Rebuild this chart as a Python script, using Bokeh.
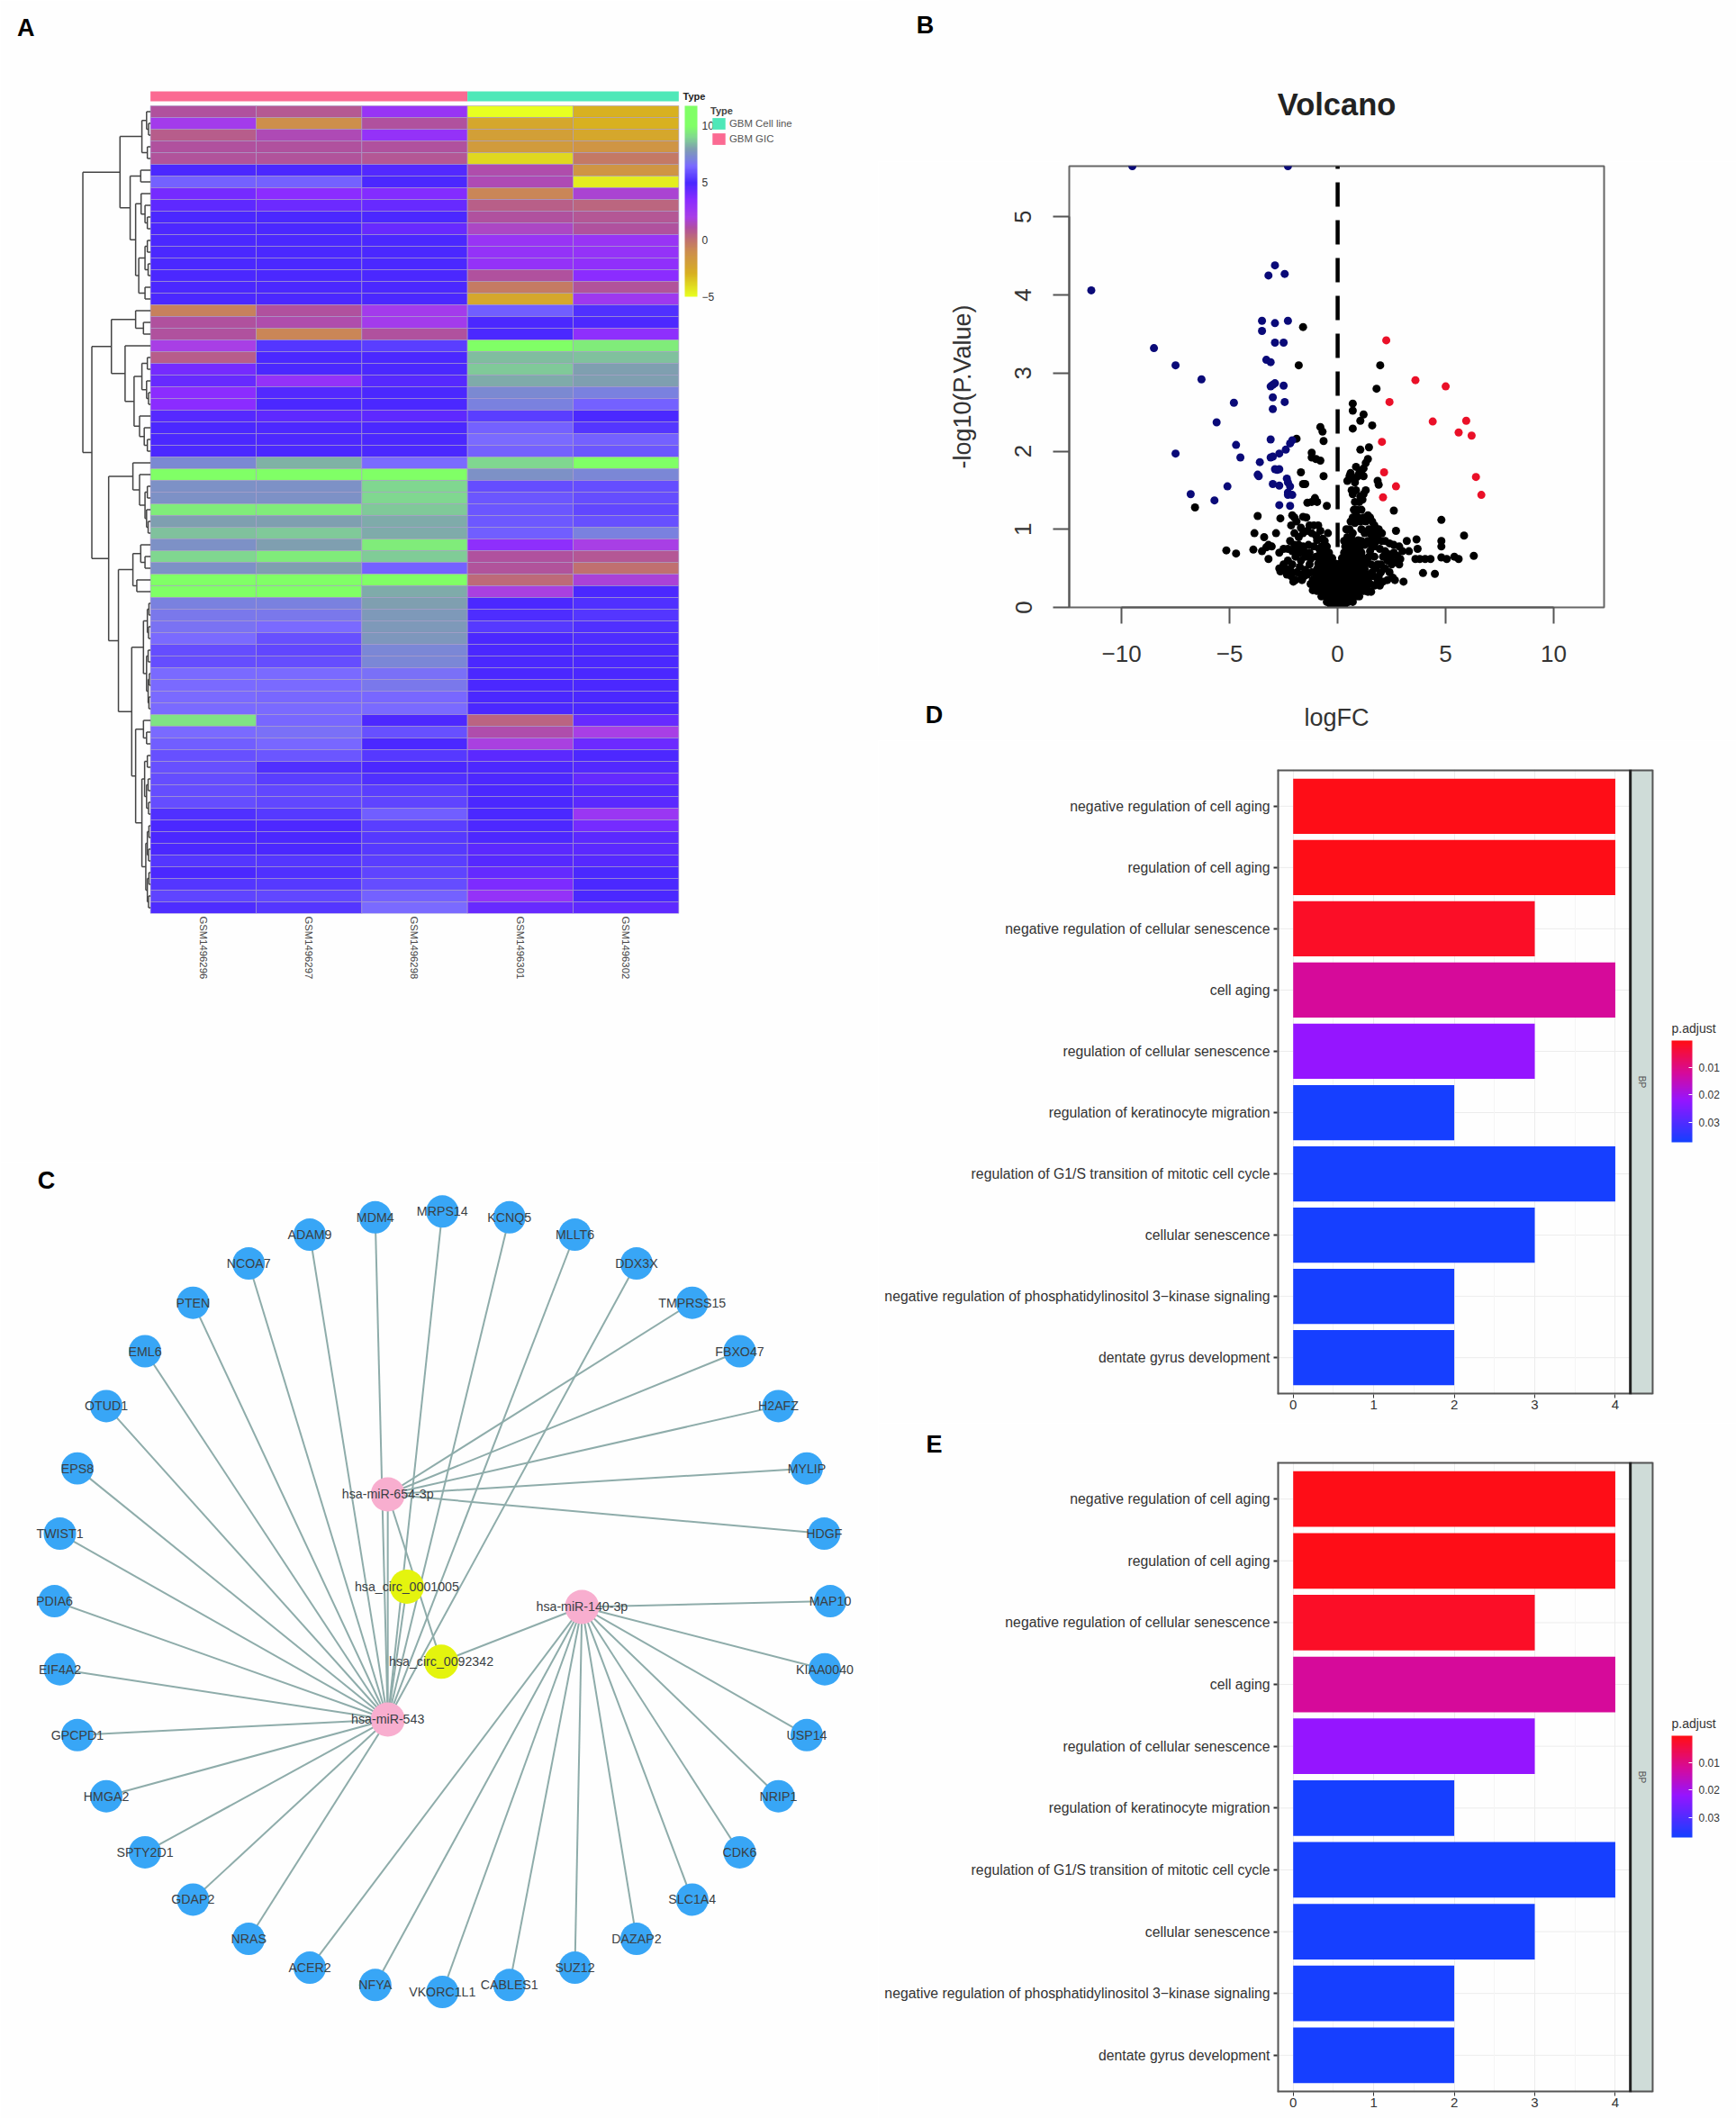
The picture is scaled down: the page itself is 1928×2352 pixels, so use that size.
import math
from bokeh.plotting import figure
from bokeh.layouts import row, column
from bokeh.models import (Range1d, FactorRange, FixedTicker, LinearColorMapper, ColorBar, AllLabels,
                          Legend, LegendItem, Label, ColumnDataSource, Title)
from bokeh.transform import transform
from bokeh.core.properties import value
from bokeh.embed import file_html
from bokeh.resources import INLINE

FONT = "Liberation Sans"
BG = "#fefefe"

# ---------- Panel A: heatmap ----------
samples = ["GSM1496296", "GSM1496297", "GSM1496298", "GSM1496301", "GSM1496302"]
sample_type = ["GBM GIC", "GBM GIC", "GBM GIC", "GBM Cell line", "GBM Cell line"]
heat_rows = [
    [1, .7, 2.8, -5, -3], [2.2, -1.2, 1, -2.5, -3], [.6, 1.3, 3, -2, -2.5], [1, 1, 1, -1.8, -1.5],
    [.9, .9, .8, -4, -.3], [5, 5, 4.8, 1.2, -1.5], [6.3, 6.3, 5, 1.3, -4.5], [4, 3.5, 3.7, -.8, 1.7],
    [4.5, 4.2, 4.3, .5, .3], [5, 5, 5, 1, .8], [4.9, 5, 4.3, 1.5, 1], [5, 5, 5, 2.8, 2.8],
    [5, 5, 5, 3, 3], [5, 5, 5, 3, 3.2], [5, 5, 5, 1, 3.5], [5, 5, 5, -.4, .9],
    [5, 5, 5, -2.5, 2.5], [-.6, 1, 2.2, 6.2, 5.2], [1, 1.2, 2.2, 5, 4.9], [1, -.8, 1, 5, 3.3],
    [2, 5.3, 5.5, 10, 9.5], [.6, 5, 5, 8.5, 8.6], [4, 5, 5, 8.7, 8], [4.3, 3, 4.7, 8.2, 8],
    [3.5, 4.8, 5, 7.3, 7], [3.5, 5, 5, 7, 6.3], [4.7, 4.5, 4.5, 5.5, 5], [5, 4.9, 5, 6.3, 5.3],
    [5, 4.9, 5, 6.5, 6.3], [5, 5, 5, 6.3, 6], [7.3, 8.3, 6.5, 9, 10], [10, 10, 10, 7.5, 7.2],
    [7.5, 7.5, 9, 5.8, 5.8], [7.5, 7.5, 9, 6, 5.8], [9.5, 9.5, 8.7, 6, 5.7], [8, 8, 8.2, 6.1, 5.9],
    [8.6, 8.7, 8.2, 6.2, 7], [7.5, 8, 9.5, 3.3, 2], [9, 9.5, 8.8, 1, .8], [7.5, 8, 6.3, .9, 0],
    [11, 11, 11, .2, 1.8], [11, 11, 8.2, 1.9, 5], [7, 7, 8, 5, 5.2], [6.8, 6.8, 7.8, 5.1, 5.3],
    [6.7, 6.5, 7.8, 5.4, 5.2], [6.5, 5.9, 7.7, 5, 5.1], [5.8, 5.7, 7.2, 5, 5], [5.8, 5.8, 7.2, 5, 5],
    [6.5, 6.5, 6.6, 5, 5], [6.5, 6.5, 6.8, 5, 5], [6.5, 6.4, 6.4, 5, 5], [6.5, 6.5, 6.5, 5, 5],
    [9.2, 6.4, 4.9, .4, 4.3], [6.5, 6.6, 5.9, 1.2, 2], [6.2, 6.4, 5, 1.9, 4.2], [5.9, 6, 5.4, 4.6, 4.9],
    [5.9, 5.2, 5, 4.9, 4.8], [5.8, 5.5, 5.2, 4.9, 4.4], [5.8, 5.7, 5.5, 5, 4.8], [5.8, 5.7, 5.6, 5, 4.6],
    [5.2, 5.4, 6.2, 5, 2.7], [5, 4.9, 5.5, 4.9, 4], [5, 5, 5.4, 4.9, 4.6], [5, 5, 5.4, 4.6, 4.6],
    [5.3, 5.3, 5.5, 4.7, 4.7], [5, 5.2, 5.6, 4.4, 5], [5.3, 5.4, 5.8, 3.8, 5], [5.6, 5.7, 6.3, 3, 5],
    [5.1, 5.3, 6.5, 4.3, 4.5],
]
# dendrogram: (height, left, right), leaves are row numbers from the top
t1_5 = (22, (10, 1, (5, 2, 3)), (8, 4, 5))
t6_17 = (52, (25, 6, 7), (38, (24, 8, (14, 9, (8, 10, 11))), (30, (14, (8, 12, 13), (6, 14, 15)), (14, 16, 17))))
t18_20 = (38, 18, (18, 19, 20))
t22_26 = (22, (8, 22, 23), (10, 24, (5, 25, 26)))
t27_30 = (28, 27, (16, 28, (8, 29, 30)))
t21_30 = (65, 21, (42, t22_26, t27_30))
t31_37 = (45, 31, (28, 32, (14, (8, 33, 34), (10, 35, (6, 36, 37)))))
t38_42 = (45, (25, 38, (14, 39, 40)), (35, 41, 42))
t43_52 = (18, (8, (4, 43, 44), (5, 45, 46)), (10, (6, 47, 48), (6, (3, 49, 50), (4, 51, 52))))
t53_55 = (18, 53, (10, 54, 55))
t56_69 = (22, (15, (8, 56, 57), (10, (6, 58, 59), (5, 60, 61))), (12, (8, (4, 62, 63), (5, 64, 65)), (8, (4, 66, 67), (5, 68, 69))))
dendro = (173, (78, t1_5, t6_17),
          (150, (100, t18_20, t21_30),
           (107, t31_37, (82, t38_42, (48, t43_52, (38, t53_55, t56_69))))))
heat_stops = [(-5, "#e8ff20"), (-3, "#d8b020"), (-1, "#cc8c50"), (0, "#c07070"), (1, "#b0509f"), (2, "#a83ee8"),
              (3.5, "#8a2cff"), (5, "#4a28ff"), (6.5, "#7a6aff"), (7, "#7a80e0"), (8, "#7f9fb0"),
              (9, "#80d890"), (10, "#80ff66"), (11.75, "#80ff66")]
heat_ticks = [-5, 0, 5, 10]

# ---------- Panel B: volcano ----------
blue_pts = [(-9.5, 5.65), (-2.3, 5.65), (-11.4, 4.06), (-2.9, 4.38), (-3.2, 4.25), (-2.45, 4.27), (-3.5, 3.67), (-2.9, 3.64),
            (-2.3, 3.67), (-3.5, 3.54), (-2.9, 3.39), (-2.5, 3.39), (-8.5, 3.32), (-7.5, 3.10), (-3.3, 3.17), (-3.1, 3.14),
            (-6.3, 2.92), (-3.1, 2.83), (-3.0, 2.85), (-2.9, 2.87), (-2.5, 2.84), (-3.0, 2.69), (-2.45, 2.63), (-4.8, 2.62),
            (-3.0, 2.54), (-5.6, 2.37), (-3.1, 2.15), (-2.1, 2.14), (-2.2, 2.1), (-4.7, 2.08), (-2.4, 2.02), (-2.7, 1.97),
            (-7.5, 1.97), (-4.5, 1.92), (-3.1, 1.92), (-3.0, 1.93), (-3.6, 1.86), (-2.9, 1.77), (-2.7, 1.77), (-2.8, 1.76),
            (-3.7, 1.70), (-3.65, 1.68), (-2.35, 1.65), (-3.0, 1.58), (-2.7, 1.56), (-2.3, 1.6), (-2.2, 1.55), (-5.1, 1.55),
            (-2.3, 1.47), (-2.3, 1.44), (-2.1, 1.44), (-6.8, 1.45), (-5.7, 1.37), (-2.7, 1.31), (-2.2, 1.30)]
red_pts = [(2.25, 3.42), (3.6, 2.91), (5.0, 2.83), (2.4, 2.63), (5.95, 2.39), (4.4, 2.38), (5.6, 2.24), (6.2, 2.2),
           (2.05, 2.12), (2.15, 1.73), (6.4, 1.67), (2.7, 1.55), (2.1, 1.41), (6.65, 1.44)]
black_sparse = [(-1.6, 3.59), (-1.8, 3.10), (1.97, 3.10), (1.8, 2.8), (.7, 2.61), (.7, 2.52), (1.2, 2.47), (1.05, 2.39), (.7, 2.29),
                (1.6, 2.33), (-.8, 2.31), (-.7, 2.25), (-.65, 2.13), (-1.9, 2.16), (1.05, 2.02), (1.45, 2.05), (-1.2, 1.98),
                (-1.2, 1.92), (-1.0, 1.9), (-.8, 1.88), (1.4, 1.9), (.85, 1.8), (1.3, 1.85), (1.2, 1.78),
                (-1.7, 1.73), (-1.6, 1.58), (-1.5, 1.58), (-.65, 1.68), (.45, 1.62), (.55, 1.68), (.6, 1.72), (.7, 1.65), (.8, 1.6),
                (.9, 1.67), (1.0, 1.72), (1.1, 1.75), (1.2, 1.68), (1.85, 1.62), (1.9, 1.57), (.65, 1.5), (.7, 1.45), (.85, 1.5),
                (1.05, 1.42), (1.2, 1.45), (1.3, 1.5), (.8, 1.35), (1.0, 1.35), (1.15, 1.38), (.75, 1.25), (.85, 1.22), (-1.4, 1.34),
                (-1.2, 1.35), (-1.05, 1.4), (-.95, 1.35), (-.5, 1.3), (2.6, 1.24), (-6.6, 1.28), (4.8, 1.12), (-3.7, 1.17), (-2.65, 1.14),
                (-2.1, 1.18), (-2.0, 1.15), (-1.6, 1.16), (-1.45, 1.15), (-2.15, 1.05), (-1.9, 1.1)]
black_mid = [(1.4, 1.18), (1.5, 1.15), (1.6, 1.1), (1.3, 1.1), (1.7, 1.05), (1.45, 1.0), (1.75, .95), (1.9, 1.0), (2.7, .98), (.7, 1.15),
             (.8, 1.08), (.55, 1.0), (.7, .95), (.45, .9), (1.1, 1.0), (1.25, .95), (-3.85, .95), (-3.4, .9), (-2.85, .95), (5.85, .92),
             (4.8, .85), (4.8, .78), (3.2, .85), (3.65, .87), (3.7, .75), (3.3, .72),
             (-5.15, .73), (-4.7, .69), (-3.9, .74), (-3.5, .72), (-3.3, .77), (-3.2, .8), (-3.05, .78), (-2.7, .7), (-3.2, .62), (-2.5, .75),
             (-2.7, .5), (-2.65, .46), (-2.5, .55), (-2.3, .6), (-2.2, .48), (-2.05, .33), (-1.65, .35), (-2.1, .55), (-1.95, .65), (-2.2, .85),
             (-2.0, .8), (-1.8, .9), (-1.6, .78), (-1.4, .98), (-1.2, .95), (-1.0, .92), (-.8, .98), (-1.7, .6), (-1.5, .65), (-1.3, .7),
             (-1.1, .78), (-1.9, .45), (-1.7, .42), (-1.5, .48), (-1.3, .55), (-1.0, .65), (-.85, .75), (-.6, .85), (-.45, .95),
             (2.2, .85), (2.4, .82), (2.6, .8), (2.85, .78), (3.0, .72), (2.6, .7), (2.75, .66), (2.9, .62), (2.7, .58), (2.5, .55), (2.85, .55),
             (2.3, .6), (2.1, .65), (2.2, .5), (2.4, .45), (2.55, .38), (2.1, .33), (2.65, .35), (3.05, .33), (2.0, .45), (1.85, .55), (1.7, .65),
             (1.5, .72), (1.95, .75), (1.8, .85), (1.6, .88), (1.4, .85), (1.25, .8), (1.1, .85), (1.55, .55), (1.65, .4), (1.4, .35), (1.85, .33),
             (3.6, .62), (3.8, .62), (4.05, .62), (4.3, .62), (4.8, .64), (5.05, .62), (5.4, .65), (5.6, .62), (6.3, .66), (3.95, .44), (4.5, .43)]
black_flanks = [(-2.3, .75), (-2.1, .72), (-1.9, .75), (-1.75, .7), (-1.55, .72), (-1.35, .8), (-1.25, .62), (-2.4, .5), (-2.35, .42), (-2.15, .4),
                (-1.95, .35), (-1.75, .52), (-1.55, .4), (-1.4, .42), (-1.2, .45), (-1.15, .35), (-1.8, .8), (-1.6, .95), (-2.0, .95), (-1.3, 1.05),
                (-1.1, 1.05), (-.9, 1.05), (-1.7, 1.02), (-.7, .88), (-1.25, .3), (-1.15, .22),
                (1.45, .65), (1.6, .45), (1.75, .5), (1.9, .4), (1.55, .8), (1.7, .78), (2.05, .85), (2.2, .72), (2.35, .68), (2.45, .62), (2.0, .55),
                (1.5, .3), (1.7, .28), (1.95, .28), (2.3, .35), (1.4, .2), (1.55, .2), (1.35, .6), (1.5, .95), (1.65, 1.0), (1.2, 1.15), (1.05, 1.1),
                (.95, 1.15), (1.85, .92), (2.05, .95), (.6, 1.1), (.4, 1.0), (.3, .85), (.9, 1.25), (1.1, 1.25)]
black_dense = [
    (.02, [-.3, -.1, .1, .3]),
    (.07, [-.5, -.3, -.1, .1, .3, .5, .7]),
    (.14, [-.75, -.55, -.35, -.15, .05, .25, .45, .65, .85, 1.0]),
    (.21, [-.95, -.75, -.55, -.35, -.15, .05, .25, .45, .65, .85, 1.05, 1.2]),
    (.28, [-1.0, -.8, -.6, -.4, -.2, 0, .2, .4, .6, .8, 1.0, 1.2, 1.35]),
    (.35, [-1.05, -.85, -.65, -.45, -.25, -.05, .15, .35, .55, .75, .95, 1.15, 1.35]),
    (.42, [-1.0, -.8, -.6, -.4, -.2, 0, .2, .4, .6, .8, 1.0, 1.2, 1.4]),
    (.49, [-.95, -.75, -.55, -.35, -.15, .05, .25, .45, .65, .85, 1.05, 1.25]),
    (.56, [-.9, -.7, -.5, -.3, -.1, .1, .3, .5, .7, .9, 1.1, 1.3]),
    (.63, [-.85, -.65, -.45, -.25, .2, .4, .6, .8, 1.0, 1.2]),
    (.70, [-.8, -.6, -.4, .3, .5, .7, .9, 1.1]),
    (.78, [-.75, -.5, .35, .6, .85, 1.05]),
    (.86, [-.95, .45, .7, .95]),
]

# ---------- Panel C: network (layout coordinates) ----------
hub_543, hub_654, hub_140 = "hsa-miR-543", "hsa-miR-654-3p", "hsa-miR-140-3p"
circ_a, circ_b = "hsa_circ_0001005", "hsa_circ_0092342"
hubs = {hub_654: (677, 560), hub_543: (677, 950), hub_140: (1033, 755)}
circs = {circ_a: (712, 720), circ_b: (775, 850)}
genes = [("MDM4", 654, 80, hub_543), ("MRPS14", 777, 70, hub_543), ("KCNQ5", 900, 80, hub_543), ("MLLT6", 1020, 110, hub_543),
         ("DDX3X", 1133, 160, hub_543), ("TMPRSS15", 1235, 228, hub_654), ("FBXO47", 1322, 312, hub_654), ("H2AFZ", 1393, 407, hub_654),
         ("MYLIP", 1445, 515, hub_654), ("HDGF", 1477, 628, hub_654), ("MAP10", 1488, 745, hub_140), ("KIAA0040", 1478, 863, hub_140),
         ("USP14", 1445, 977, hub_140), ("NRIP1", 1393, 1083, hub_140), ("CDK6", 1322, 1180, hub_140), ("SLC1A4", 1235, 1262, hub_140),
         ("DAZAP2", 1133, 1330, hub_140), ("SUZ12", 1020, 1380, hub_140), ("CABLES1", 900, 1410, hub_140), ("VKORC1L1", 777, 1422, hub_140),
         ("NFYA", 654, 1410, hub_140), ("ACER2", 534, 1380, hub_140), ("NRAS", 422, 1330, hub_543), ("GDAP2", 320, 1262, hub_543),
         ("SPTY2D1", 232, 1180, hub_543), ("HMGA2", 161, 1083, hub_543), ("GPCPD1", 108, 977, hub_543), ("EIF4A2", 76, 863, hub_543),
         ("PDIA6", 66, 745, hub_543), ("TWIST1", 76, 628, hub_543), ("EPS8", 108, 515, hub_543), ("OTUD1", 161, 407, hub_543),
         ("EML6", 232, 312, hub_543), ("PTEN", 320, 228, hub_543), ("NCOA7", 422, 160, hub_543), ("ADAM9", 534, 110, hub_543)]
extra_edges = [(hub_654, hub_543), (hub_654, circ_b), (circ_b, hub_140), (circ_a, hub_543)]

# ---------- Panels D and E: GO bars ----------
go_terms = ["negative regulation of cell aging", "regulation of cell aging", "negative regulation of cellular senescence",
            "cell aging", "regulation of cellular senescence", "regulation of keratinocyte migration",
            "regulation of G1/S transition of mitotic cell cycle", "cellular senescence",
            "negative regulation of phosphatidylinositol 3\u2212kinase signaling", "dentate gyrus development"]
go_counts = [4, 4, 3, 4, 3, 2, 4, 3, 2, 2]
go_padj = [.0005, .0005, .002, .012, .022, .037, .037, .037, .037, .037]
padj_stops = [(.0002, "#ff0d14"), (.002, "#fb0e28"), (.012, "#d60a9a"), (.022, "#9515ff"), (.0373, "#1440ff")]
padj_ticks = [.01, .02, .03]


def make_palette(stops, n=256):
    lo, hi = stops[0][0], stops[-1][0]
    rgb = [(v, tuple(int(c[i:i + 2], 16) for i in (1, 3, 5))) for v, c in stops]
    out = []
    for k in range(n):
        v = lo + (hi - lo) * k / (n - 1)
        for (a, ca), (b, cb) in zip(rgb, rgb[1:]):
            if v <= b + 1e-12:
                f = (v - a) / (b - a)
                out.append("#%02x%02x%02x" % tuple(round(x + (y - x) * f) for x, y in zip(ca, cb)))
                break
    return out


def title_letter(p, txt, offset, standoff, side="above"):
    p.add_layout(Title(text=txt, align="left", offset=offset, standoff=standoff, text_font=FONT, text_font_size="27px",
                       text_font_style="bold", text_color="#000000"), side)


def label_letter(p, txt, x, y):
    p.add_layout(Label(x=x, y=y, text=txt, text_font=FONT, text_font_size="27px", text_font_style="bold",
                       text_color="#000000", text_align="center", text_baseline="middle"))


# ---------- draw A ----------
heat_palette = make_palette(heat_stops)
heat_mapper = LinearColorMapper(palette=heat_palette, low=-5, high=11.75)
pa = figure(width=975, height=1290, output_backend="svg", toolbar_location=None, frame_align=False,
            x_range=Range1d(-1.3775, 6.25), y_range=Range1d(69, -8.615), y_axis_location=None,
            min_border_left=5, min_border_right=75, min_border_top=5, min_border_bottom=276,
            background_fill_color=BG, border_fill_color=BG, outline_line_color=None)
pa.grid.visible = False
xs, ys, vs = [], [], []
for r, vals in enumerate(heat_rows):
    for c, v in enumerate(vals):
        xs.append(c + .5); ys.append(r + .5); vs.append(v)
pa.rect(x="x", y="y", width=1, height=1, source=ColumnDataSource(dict(x=xs, y=ys, v=vs)),
        fill_color=transform("v", heat_mapper), line_color="#a89cc8", line_alpha=.6, line_width=1)
r_gic = pa.quad(left=[0], right=[sample_type.count("GBM GIC")], top=[-1.23], bottom=[-.385], fill_color="#fb6a92", line_color=None)
r_line = pa.quad(left=[sample_type.count("GBM GIC")], right=[len(samples)], top=[-1.23], bottom=[-.385], fill_color="#4fe8b8", line_color=None)
x0s, y0s, x1s, y1s = [], [], [], []
K = .0037


def walk(n):
    if isinstance(n, int):
        return 0.0, n - .5
    h, a, b = n
    ha, ya = walk(a)
    hb, yb = walk(b)
    x0s.extend([-h * K, -h * K, -h * K]); x1s.extend([-h * K, -ha * K, -hb * K])
    y0s.extend([ya, ya, yb]); y1s.extend([yb, ya, yb])
    return h, (ya + yb) / 2


walk(dendro)
pa.segment(x0s, y0s, x1s, y1s, line_color="#444444", line_width=1.5)
ax = pa.xaxis[0]
ax.ticker = FixedTicker(ticks=[i + .5 for i in range(5)])
ax.major_label_overrides = {i + .5: s for i, s in enumerate(samples)}
ax.major_label_orientation = -math.pi / 2
ax.major_label_text_font = FONT
ax.major_label_text_font_size = "11.3px"
ax.major_label_text_color = "#444444"
ax.major_label_standoff = -3
ax.axis_line_color = None
ax.major_tick_line_color = None
ax.minor_tick_line_color = None
cb_a = ColorBar(color_mapper=heat_mapper, ticker=FixedTicker(ticks=heat_ticks), location=(755, 685), width=14, height=212,
                padding=0, margin=0, background_fill_color=None, major_tick_line_color=None, bar_line_color=None,
                major_label_text_font=FONT, major_label_text_font_size="12px", major_label_text_color="#333333", label_standoff=5)
pa.add_layout(cb_a, "center")
leg = Legend(items=[LegendItem(label="GBM Cell line", renderers=[r_line]), LegendItem(label="GBM GIC", renderers=[r_gic])],
             location=(784, 852), title="Type", title_text_font=FONT, title_text_font_size="11px", title_text_font_style="bold",
             title_standoff=0, label_text_font=FONT, label_text_font_size="11.4px", label_text_color="#555555",
             glyph_width=18, glyph_height=16, spacing=1, padding=0, margin=0, border_line_color=None, background_fill_color=None,
             label_standoff=3)
pa.add_layout(leg, "center")
pa.add_layout(Label(x=5.04, y=-.8, text="Type", text_font=FONT, text_font_size="11px", text_font_style="bold",
                    text_baseline="middle", text_color="#222222"))
label_letter(pa, "A", -1.18, -6.69)

# ---------- draw C ----------
pc = figure(width=975, height=1062, output_backend="svg", toolbar_location=None, frame_align=False,
            x_range=Range1d(0, 1568), y_range=Range1d(1560, 0), x_axis_location=None, y_axis_location=None,
            min_border_left=20, min_border_right=5, min_border_top=10, min_border_bottom=52,
            background_fill_color=BG, border_fill_color=BG, outline_line_color=None)
pc.grid.visible = False
pos = dict(hubs); pos.update(circs)
ex0 = [g[1] for g in genes] + [pos[a][0] for a, b in extra_edges]
ey0 = [g[2] for g in genes] + [pos[a][1] for a, b in extra_edges]
ex1 = [pos[g[3]][0] for g in genes] + [pos[b][0] for a, b in extra_edges]
ey1 = [pos[g[3]][1] for g in genes] + [pos[b][1] for a, b in extra_edges]
pc.segment(ex0, ey0, ex1, ey1, line_color="#8eacaa", line_width=2)
pc.scatter([g[1] for g in genes], [g[2] for g in genes], size=36, fill_color="#38a6f6", line_color=None)
pc.scatter([v[0] for v in hubs.values()], [v[1] for v in hubs.values()], size=38, fill_color="#f8aecf", line_color=None)
pc.scatter([v[0] for v in circs.values()], [v[1] for v in circs.values()], size=38, fill_color="#e4f40e", line_color=None)
names = [g[0] for g in genes] + list(pos)
pc.text([g[1] for g in genes] + [v[0] for v in pos.values()], [g[2] for g in genes] + [v[1] for v in pos.values()], text=names,
        text_font=value(FONT), text_font_size="14.2px", text_color="#3a3f44", text_align="center", text_baseline="middle")
label_letter(pc, "C", 51, 17)


# ---------- draw B: header strips for its title, x label and panel letters, then the plot ----------
def text_strip(height):
    s = figure(width=953, height=height, output_backend="svg", toolbar_location=None, frame_align=False,
               x_range=Range1d(0, 953), y_range=Range1d(height, 0), x_axis_location=None, y_axis_location=None,
               min_border_left=0, min_border_right=0, min_border_top=0, min_border_bottom=0,
               background_fill_color=BG, border_fill_color=BG, outline_line_color=None)
    s.grid.visible = False
    return s


ph = text_strip(179)
ph.add_layout(Label(x=509, y=115.5, text="Volcano", text_font=FONT, text_font_size="34.5px", text_font_style="bold",
                    text_color="#222222", text_align="center", text_baseline="middle"))
label_letter(ph, "B", 52, 27)

pb = figure(width=953, height=571, output_backend="svg", toolbar_location=None, frame_align=False,
            x_range=Range1d(-12.42, 12.33), y_range=Range1d(0, 5.65),
            min_border_left=212, min_border_right=147, min_border_top=5, min_border_bottom=76,
            background_fill_color=BG, border_fill_color=BG, outline_line_color="#666666", outline_line_width=2,
            y_axis_label="-log10(P.Value)")
pb.grid.visible = False

pf = text_strip(72)
pf.add_layout(Label(x=509, y=46, text="logFC", text_font=FONT, text_font_size="27px", text_color="#333333",
                    text_align="center", text_baseline="middle"))
label_letter(pf, "D", 62, 43)

bx = [q[0] for q in black_sparse + black_mid + black_flanks]
by = [q[1] for q in black_sparse + black_mid + black_flanks]
for yv, xl in black_dense:
    bx += xl
    by += [yv] * len(xl)
pb.line([0, 0], [5.65, 0], line_color="#000000", line_width=4.5, line_dash="27 15", line_dash_offset=24)
pb.scatter(bx, by, size=9, fill_color="#000000", line_color=None)
pb.scatter([q[0] for q in blue_pts], [q[1] for q in blue_pts], size=9, fill_color="#0a0a78", line_color=None)
pb.scatter([q[0] for q in red_pts], [q[1] for q in red_pts], size=9, fill_color="#ea1028", line_color=None)
pb.xaxis.ticker = FixedTicker(ticks=[-10, -5, 0, 5, 10])
pb.yaxis.ticker = FixedTicker(ticks=[0, 1, 2, 3, 4, 5])
pb.xaxis.bounds = (-10, 10)
pb.yaxis.bounds = (0, 5)
pb.yaxis.major_label_orientation = "vertical"
for a in (pb.xaxis[0], pb.yaxis[0]):
    a.major_tick_out = 18
    a.major_tick_in = 0
    a.minor_tick_line_color = None
    a.axis_line_color = "#555555"
    a.axis_line_width = 2
    a.major_tick_line_color = "#555555"
    a.major_tick_line_width = 2
    a.major_label_text_font = FONT
    a.major_label_text_font_size = "26px"
    a.major_label_text_color = "#333333"
    a.major_label_standoff = 24
    a.axis_label_text_font = FONT
    a.axis_label_text_font_size = "27px"
    a.axis_label_text_font_style = "normal"
    a.axis_label_text_color = "#333333"
    a.axis_label_standoff = 41


# ---------- draw D / E ----------
def go_panel(height, top, bottom, cb_loc):
    pal = make_palette(padj_stops)
    mapper = LinearColorMapper(palette=pal, low=padj_stops[0][0], high=padj_stops[-1][0])
    p = figure(width=953, height=height, output_backend="svg", toolbar_location=None, frame_align=False,
               x_range=Range1d(-.198, 5.415), y_range=FactorRange(factors=list(reversed(go_terms)), range_padding=.02),
               min_border_left=443, min_border_right=8, min_border_top=top, min_border_bottom=bottom,
               background_fill_color=BG, border_fill_color=BG, outline_line_color=None)
    p.ygrid.visible = False
    p.segment([-.198] * 10, go_terms, [4.187] * 10, go_terms, line_color="#ececec", line_width=1, level="underlay")
    src = ColumnDataSource(dict(term=go_terms, count=go_counts, padj=go_padj))
    p.hbar(y="term", left=0, right="count", height=.9, source=src, fill_color=transform("padj", mapper), line_color=None)
    ylo, yhi = -.1, 10.1
    p.quad(left=[4.187], right=[4.464], top=[yhi], bottom=[ylo], fill_color="#cfdcd8", line_color=None)
    p.text([4.325], [5.0], text=["BP"], angle=-math.pi / 2, text_font=value(FONT), text_font_size="10px",
           text_color="#555555", text_align="center", text_baseline="middle")
    p.segment([-.198, -.198, -.198], [ylo, yhi, ylo], [-.198, 4.464, 4.464], [yhi, yhi, ylo], line_color="#555555", line_width=4)
    p.segment([4.464], [ylo], [4.464], [yhi], line_color="#555555", line_width=2)
    p.segment([4.187], [ylo], [4.187], [yhi], line_color="#222222", line_width=3)
    p.xgrid.ticker = FixedTicker(ticks=[0, 1, 2, 3, 4], minor_ticks=[.5, 1.5, 2.5, 3.5])
    p.xgrid.grid_line_color = "#ececec"
    p.xgrid.minor_grid_line_color = "#f5f5f5"
    xa = p.xaxis[0]
    xa.ticker = FixedTicker(ticks=[0, 1, 2, 3, 4])
    xa.axis_line_color = None
    xa.minor_tick_line_color = None
    xa.major_tick_out = 4
    xa.major_tick_in = 0
    xa.major_tick_line_color = "#333333"
    xa.major_label_text_font = FONT
    xa.major_label_text_font_size = "15px"
    xa.major_label_text_color = "#333333"
    xa.major_label_standoff = 2
    ya = p.yaxis[0]
    ya.axis_line_color = None
    ya.major_tick_out = 4
    ya.major_tick_in = 0
    ya.major_tick_line_color = "#333333"
    ya.major_tick_line_width = 2
    ya.major_label_text_font = FONT
    ya.major_label_text_font_size = "15.8px"
    ya.major_label_text_color = "#333333"
    ya.major_label_standoff = 4
    cm = LinearColorMapper(palette=pal[::-1], low=-padj_stops[-1][0], high=-padj_stops[0][0])
    cb = ColorBar(color_mapper=cm, ticker=FixedTicker(ticks=[-t for t in padj_ticks]),
                  major_label_overrides={-t: "%.2f" % t for t in padj_ticks}, major_label_policy=AllLabels(),
                  location=cb_loc, width=23, height=113, padding=0, margin=0, background_fill_color=None,
                  major_tick_line_color="#ffffff", major_tick_in=4, bar_line_color=None,
                  major_label_text_font=FONT, major_label_text_font_size="12px", major_label_text_color="#333333", label_standoff=7)
    p.add_layout(cb, "center")
    p.add_layout(Label(x=4.70, y=5.87, text="p.adjust", text_font=FONT, text_font_size="14px", text_color="#333333",
                       text_baseline="middle"))
    return p


pd_ = go_panel(758, 32, 32, (438, 280))
pe_ = go_panel(772, 43, 29, (438, 283))
title_letter(pe_, "E", -390, 10)

layout = row(column(pa, pc, spacing=0), column(ph, pb, pf, pd_, pe_, spacing=0), spacing=0)
open("out.html", "w").write(file_html(layout, INLINE))
